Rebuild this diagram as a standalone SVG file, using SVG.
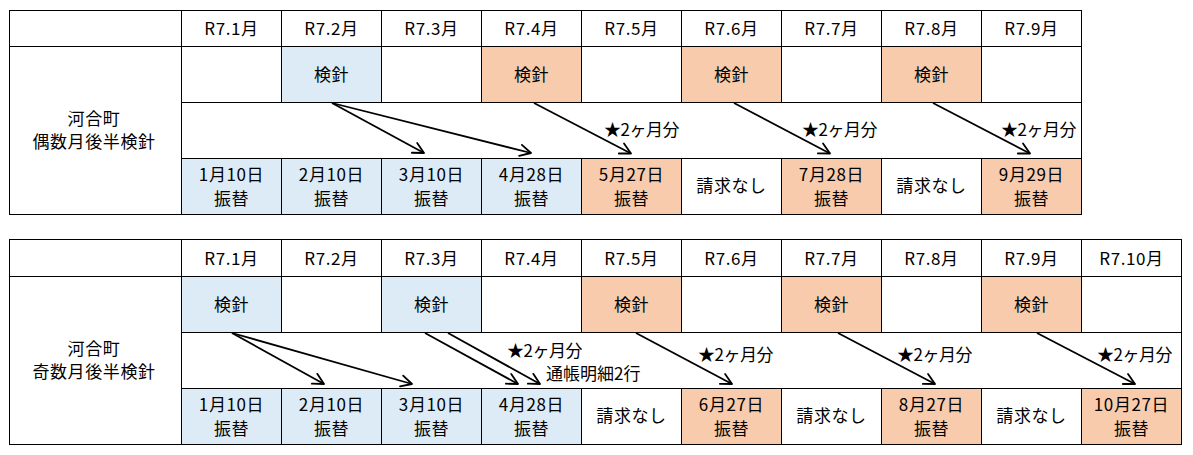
<svg xmlns="http://www.w3.org/2000/svg" width="1193" height="455" viewBox="0 0 1193 455">
<style>
.c{stroke:#000;stroke-width:1;fill:#fff}
.b{fill:#DDEBF7}
.o{fill:#F8CBAD}
.t{font-family:"Noto Sans CJK JP","Noto Sans",sans-serif;font-size:17px;text-anchor:middle;fill:#000;letter-spacing:0.6px}
.l{font-family:"Noto Sans CJK JP","Noto Sans",sans-serif;font-size:17px;fill:#000}
.s{letter-spacing:-0.5px}
.a{stroke:#000;stroke-width:1.8;fill:none;marker-end:url(#ah)}
</style>
<defs>
<marker id="ah" markerUnits="userSpaceOnUse" viewBox="-14 -8 16 16" refX="0" refY="0" markerWidth="16" markerHeight="16" orient="auto" overflow="visible">
<path d="M-10.8,-5.6 L0,0 L-10.8,5.6" fill="none" stroke="#000" stroke-width="1.8" stroke-linejoin="round" stroke-linecap="round"/>
</marker>
</defs>
<rect width="1193" height="455" fill="#fff"/>

<!-- ===== Table 1 ===== -->
<g id="t1">
<g id="t1-corner"><rect class="c" x="9.5" y="10.5" width="172" height="36"/></g>
<g id="t1-label"><rect class="c" x="9.5" y="46.5" width="172" height="168"/>
<text class="t" x="94" y="125">河合町</text><text class="t" x="94" y="148">偶数月後半検針</text></g>
<g id="t1-h1"><rect class="c" x="181.5" y="10.5" width="100" height="36"/><text class="t" x="231.5" y="35">R7.1月</text></g>
<g id="t1-h2"><rect class="c" x="281.5" y="10.5" width="100" height="36"/><text class="t" x="331.5" y="35">R7.2月</text></g>
<g id="t1-h3"><rect class="c" x="381.5" y="10.5" width="100" height="36"/><text class="t" x="431.5" y="35">R7.3月</text></g>
<g id="t1-h4"><rect class="c" x="481.5" y="10.5" width="100" height="36"/><text class="t" x="531.5" y="35">R7.4月</text></g>
<g id="t1-h5"><rect class="c" x="581.5" y="10.5" width="100" height="36"/><text class="t" x="631.5" y="35">R7.5月</text></g>
<g id="t1-h6"><rect class="c" x="681.5" y="10.5" width="100" height="36"/><text class="t" x="731.5" y="35">R7.6月</text></g>
<g id="t1-h7"><rect class="c" x="781.5" y="10.5" width="100" height="36"/><text class="t" x="831.5" y="35">R7.7月</text></g>
<g id="t1-h8"><rect class="c" x="881.5" y="10.5" width="100" height="36"/><text class="t" x="931.5" y="35">R7.8月</text></g>
<g id="t1-h9"><rect class="c" x="981.5" y="10.5" width="100" height="36"/><text class="t" x="1031.5" y="35">R7.9月</text></g>

<g id="t1-m1"><rect class="c" x="181.5" y="46.5" width="100" height="56"/></g>
<g id="t1-m2"><rect class="c b" x="281.5" y="46.5" width="100" height="56"/><text class="t" x="331.5" y="81">検針</text></g>
<g id="t1-m3"><rect class="c" x="381.5" y="46.5" width="100" height="56"/></g>
<g id="t1-m4"><rect class="c o" x="481.5" y="46.5" width="100" height="56"/><text class="t" x="531.5" y="81">検針</text></g>
<g id="t1-m5"><rect class="c" x="581.5" y="46.5" width="100" height="56"/></g>
<g id="t1-m6"><rect class="c o" x="681.5" y="46.5" width="100" height="56"/><text class="t" x="731.5" y="81">検針</text></g>
<g id="t1-m7"><rect class="c" x="781.5" y="46.5" width="100" height="56"/></g>
<g id="t1-m8"><rect class="c o" x="881.5" y="46.5" width="100" height="56"/><text class="t" x="931.5" y="81">検針</text></g>
<g id="t1-m9"><rect class="c" x="981.5" y="46.5" width="100" height="56"/></g>

<g id="t1-arrowrow"><rect class="c" x="181.5" y="102.5" width="900" height="56"/></g>

<g id="t1-p1"><rect class="c b" x="181.5" y="158.5" width="100" height="56"/><text class="t" x="231.5" y="181">1月10日</text><text class="t" x="231.5" y="205">振替</text></g>
<g id="t1-p2"><rect class="c b" x="281.5" y="158.5" width="100" height="56"/><text class="t" x="331.5" y="181">2月10日</text><text class="t" x="331.5" y="205">振替</text></g>
<g id="t1-p3"><rect class="c b" x="381.5" y="158.5" width="100" height="56"/><text class="t" x="431.5" y="181">3月10日</text><text class="t" x="431.5" y="205">振替</text></g>
<g id="t1-p4"><rect class="c b" x="481.5" y="158.5" width="100" height="56"/><text class="t" x="531.5" y="181">4月28日</text><text class="t" x="531.5" y="205">振替</text></g>
<g id="t1-p5"><rect class="c o" x="581.5" y="158.5" width="100" height="56"/><text class="t" x="631.5" y="181">5月27日</text><text class="t" x="631.5" y="205">振替</text></g>
<g id="t1-p6"><rect class="c" x="681.5" y="158.5" width="100" height="56"/><text class="t" x="731.5" y="192">請求なし</text></g>
<g id="t1-p7"><rect class="c o" x="781.5" y="158.5" width="100" height="56"/><text class="t" x="831.5" y="181">7月28日</text><text class="t" x="831.5" y="205">振替</text></g>
<g id="t1-p8"><rect class="c" x="881.5" y="158.5" width="100" height="56"/><text class="t" x="931.5" y="192">請求なし</text></g>
<g id="t1-p9"><rect class="c o" x="981.5" y="158.5" width="100" height="56"/><text class="t" x="1031.5" y="181">9月29日</text><text class="t" x="1031.5" y="205">振替</text></g>

<g id="t1-notes">
<text class="l s" x="604" y="136">★2ヶ月分</text>
<text class="l s" x="802" y="136">★2ヶ月分</text>
<text class="l s" x="1001" y="136">★2ヶ月分</text>
</g>
</g>

<!-- ===== Table 2 ===== -->
<g id="t2">
<g id="t2-corner"><rect class="c" x="9.5" y="239.5" width="172" height="37"/></g>
<g id="t2-label"><rect class="c" x="9.5" y="276.5" width="172" height="168"/>
<text class="t" x="94" y="355">河合町</text><text class="t" x="94" y="378">奇数月後半検針</text></g>
<g id="t2-h1"><rect class="c" x="181.5" y="239.5" width="100" height="37"/><text class="t" x="231.5" y="264.5">R7.1月</text></g>
<g id="t2-h2"><rect class="c" x="281.5" y="239.5" width="100" height="37"/><text class="t" x="331.5" y="264.5">R7.2月</text></g>
<g id="t2-h3"><rect class="c" x="381.5" y="239.5" width="100" height="37"/><text class="t" x="431.5" y="264.5">R7.3月</text></g>
<g id="t2-h4"><rect class="c" x="481.5" y="239.5" width="100" height="37"/><text class="t" x="531.5" y="264.5">R7.4月</text></g>
<g id="t2-h5"><rect class="c" x="581.5" y="239.5" width="100" height="37"/><text class="t" x="631.5" y="264.5">R7.5月</text></g>
<g id="t2-h6"><rect class="c" x="681.5" y="239.5" width="100" height="37"/><text class="t" x="731.5" y="264.5">R7.6月</text></g>
<g id="t2-h7"><rect class="c" x="781.5" y="239.5" width="100" height="37"/><text class="t" x="831.5" y="264.5">R7.7月</text></g>
<g id="t2-h8"><rect class="c" x="881.5" y="239.5" width="100" height="37"/><text class="t" x="931.5" y="264.5">R7.8月</text></g>
<g id="t2-h9"><rect class="c" x="981.5" y="239.5" width="100" height="37"/><text class="t" x="1031.5" y="264.5">R7.9月</text></g>
<g id="t2-h10"><rect class="c" x="1081.5" y="239.5" width="100" height="37"/><text class="t" x="1131.5" y="264.5">R7.10月</text></g>

<g id="t2-m1"><rect class="c b" x="181.5" y="276.5" width="100" height="56"/><text class="t" x="231.5" y="311">検針</text></g>
<g id="t2-m2"><rect class="c" x="281.5" y="276.5" width="100" height="56"/></g>
<g id="t2-m3"><rect class="c b" x="381.5" y="276.5" width="100" height="56"/><text class="t" x="431.5" y="311">検針</text></g>
<g id="t2-m4"><rect class="c" x="481.5" y="276.5" width="100" height="56"/></g>
<g id="t2-m5"><rect class="c o" x="581.5" y="276.5" width="100" height="56"/><text class="t" x="631.5" y="311">検針</text></g>
<g id="t2-m6"><rect class="c" x="681.5" y="276.5" width="100" height="56"/></g>
<g id="t2-m7"><rect class="c o" x="781.5" y="276.5" width="100" height="56"/><text class="t" x="831.5" y="311">検針</text></g>
<g id="t2-m8"><rect class="c" x="881.5" y="276.5" width="100" height="56"/></g>
<g id="t2-m9"><rect class="c o" x="981.5" y="276.5" width="100" height="56"/><text class="t" x="1031.5" y="311">検針</text></g>
<g id="t2-m10"><rect class="c" x="1081.5" y="276.5" width="100" height="56"/></g>

<g id="t2-arrowrow"><rect class="c" x="181.5" y="332.5" width="1000" height="56"/></g>

<g id="t2-p1"><rect class="c b" x="181.5" y="388.5" width="100" height="56"/><text class="t" x="231.5" y="411">1月10日</text><text class="t" x="231.5" y="435">振替</text></g>
<g id="t2-p2"><rect class="c b" x="281.5" y="388.5" width="100" height="56"/><text class="t" x="331.5" y="411">2月10日</text><text class="t" x="331.5" y="435">振替</text></g>
<g id="t2-p3"><rect class="c b" x="381.5" y="388.5" width="100" height="56"/><text class="t" x="431.5" y="411">3月10日</text><text class="t" x="431.5" y="435">振替</text></g>
<g id="t2-p4"><rect class="c b" x="481.5" y="388.5" width="100" height="56"/><text class="t" x="531.5" y="411">4月28日</text><text class="t" x="531.5" y="435">振替</text></g>
<g id="t2-p5"><rect class="c" x="581.5" y="388.5" width="100" height="56"/><text class="t" x="631.5" y="422">請求なし</text></g>
<g id="t2-p6"><rect class="c o" x="681.5" y="388.5" width="100" height="56"/><text class="t" x="731.5" y="411">6月27日</text><text class="t" x="731.5" y="435">振替</text></g>
<g id="t2-p7"><rect class="c" x="781.5" y="388.5" width="100" height="56"/><text class="t" x="831.5" y="422">請求なし</text></g>
<g id="t2-p8"><rect class="c o" x="881.5" y="388.5" width="100" height="56"/><text class="t" x="931.5" y="411">8月27日</text><text class="t" x="931.5" y="435">振替</text></g>
<g id="t2-p9"><rect class="c" x="981.5" y="388.5" width="100" height="56"/><text class="t" x="1031.5" y="422">請求なし</text></g>
<g id="t2-p10"><rect class="c o" x="1081.5" y="388.5" width="100" height="56"/><text class="t" x="1131.5" y="411">10月27日</text><text class="t" x="1131.5" y="435">振替</text></g>

<g id="t2-notes">
<text class="l s" x="507" y="357">★2ヶ月分</text>
<text class="l" x="546" y="380">通帳明細2行</text>
<text class="l s" x="698" y="361">★2ヶ月分</text>
<text class="l s" x="897" y="361">★2ヶ月分</text>
<text class="l s" x="1097" y="361">★2ヶ月分</text>
</g>
</g>

<!-- ===== Connectors ===== -->
<g id="connectors">
<line class="a" x1="332" y1="103" x2="424" y2="153"/>
<line class="a" x1="332" y1="103" x2="531" y2="153"/>
<line class="a" x1="534" y1="103" x2="631" y2="153.5"/>
<line class="a" x1="734" y1="103" x2="830" y2="153.5"/>
<line class="a" x1="933" y1="103" x2="1030" y2="153.5"/>

<line class="a" x1="232" y1="333" x2="324" y2="384"/>
<line class="a" x1="232" y1="333" x2="412" y2="384"/>
<line class="a" x1="425" y1="333" x2="518" y2="384"/>
<line class="a" x1="448" y1="333" x2="540" y2="384"/>
<line class="a" x1="636" y1="333" x2="732" y2="384"/>
<line class="a" x1="838" y1="333" x2="935" y2="384"/>
<line class="a" x1="1037" y1="333" x2="1135" y2="384"/>
</g>
</svg>
